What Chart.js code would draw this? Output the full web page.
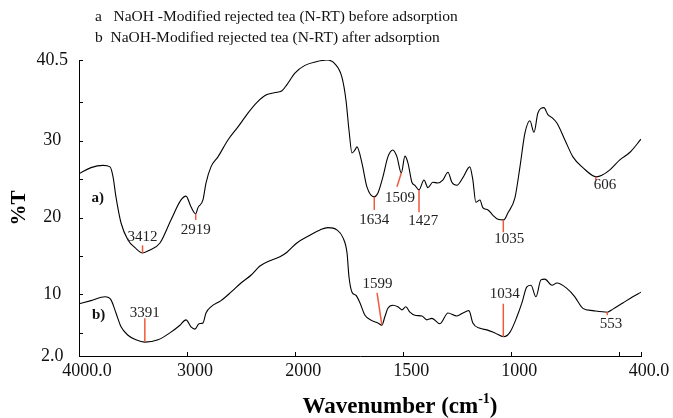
<!DOCTYPE html>
<html>
<head>
<meta charset="utf-8">
<script src="https://cdn.jsdelivr.net/npm/chart.js@4.4.1/dist/chart.umd.min.js"></script>
<style>
    html, body { margin: 0; padding: 0; background: #fff; }
    #wrap { position: relative; width: 673px; height: 418px; }
</style>
</head>
<body>
<div id="wrap"><canvas id="ftirChart" width="673" height="418"></canvas></div>
<script>
// spectrum a (before adsorption)
const waveA = [4000,3889,3778,3713,3685,3658,3611,3547,3482,3412,3343,3251,3149,3056,3010,2964,2920,2899,2853,2825,
    2779,2714,2622,2529,2437,2353,2261,2168,2122,2076,2002,1955,1899,1853,1816,1784,1765,1751,1737,1723,
    1714,1691,1668,1634,1617,1594,1571,1548,1529,1509,1492,1478,1460,1446,1427,1404,1386,1363,1340,1316,
    1293,1275,1252,1224,1192,1178,1164,1145,1132,1108,1085,1062,1035,1016,983,960,937,914,895,877,
    849,831,812,789,752,715,669,606,581,544,498,451,400];
const pctA = [25.7,26.5,26.8,26.6,25.3,22.7,19.3,17.1,16.1,15.4,15.8,16.7,19.7,22.3,22.8,21.4,20.5,21.3,22.3,24.5,
    26.6,27.9,30.1,31.8,33.6,35.0,36.0,36.3,36.5,37.3,38.8,39.8,40.3,40.5,40.0,38.3,35.3,31.4,28.4,28.8,
    29.2,27.1,24.0,22.7,23.2,25.3,27.9,28.8,27.9,25.8,28.0,27.1,24.6,24.2,23.6,24.9,23.9,24.6,24.5,24.9,
    25.9,24.6,24.2,25.2,26.6,24.9,22.0,22.3,21.3,21.0,20.3,19.8,19.7,20.6,22.6,26.6,31.0,32.6,31.1,33.6,
    34.3,33.4,33.0,32.3,30.1,27.9,26.5,25.3,25.5,26.2,27.5,28.5,30.2];

// spectrum b (after adsorption)
const waveB = [4000,3889,3759,3704,3658,3611,3547,3473,3391,3269,3149,3066,3010,2964,2927,2890,2853,2825,2779,2686,
    2594,2501,2409,2326,2233,2141,2076,1992,1932,1885,1848,1807,1779,1760,1751,1737,1719,1700,1677,1645,
    1617,1599,1585,1571,1548,1525,1506,1488,1469,1446,1413,1391,1367,1330,1293,1252,1224,1196,1178,1145,
    1113,1076,1035,1006,974,951,928,909,886,863,845,812,789,743,706,669,623,556,530,484,438,400];
const pctB = [8.8,9.2,9.7,9.3,7.6,5.8,4.7,4.1,3.8,4.1,5.1,6.0,6.7,5.8,5.5,6.2,6.3,7.6,8.4,9.2,
    10.3,11.5,12.5,13.7,14.4,14.9,15.5,16.7,17.7,18.4,18.7,18.4,17.4,15.4,12.3,10.3,9.9,8.9,7.3,6.6,
    6.3,6.0,7.1,8.2,8.6,8.4,8.0,8.4,7.7,7.3,7.2,6.7,6.9,6.2,7.6,7.2,7.6,7.9,6.3,5.6,
    5.4,5.0,4.5,5.1,7.1,8.9,11.0,11.2,9.7,11.9,12.0,11.2,11.5,10.8,9.7,8.2,7.9,7.7,8.1,8.9,9.7,10.3];

const xTickWaves = [4000, 3000, 2000, 1500, 1000, 500, 400];
const xTickLabels = ['4000.0', '3000', '2000', '1500', '1000', '', '400.0'];
const yTickValues = [2, 5, 10, 15, 20, 25, 30, 35, 40.5];
const yTickLabels = ['2.0', '', '10', '', '20', '', '30', '', '40.5'];

const legendLines = [
    'a   NaOH -Modified rejected tea (N-RT) before adsorption',
    'b  NaOH-Modified rejected tea (N-RT) after adsorption'
];
const seriesTags = [['a)', 3885, 22.5], ['b)', 3880, 7.3]];

// peak marks: text, line start (wave, %T), line end (wave, %T), text centre (wave, %T)
const peakNotes = [
    ['3412', 3412, 15.4, 3412, 16.4, 3412, 17.5],
    ['2919', 2920, 20.5, 2920, 19.7, 2920, 18.4],
    ['3391', 3391, 3.85, 3391, 6.9, 3391, 7.6],
    ['1634', 1634, 22.7, 1634, 21.0, 1634, 19.7],
    ['1509', 1509, 25.8, 1529, 24.0, 1515, 22.6],
    ['1427', 1427, 23.6, 1427, 20.7, 1407, 19.6],
    ['1035', 1037, 19.7, 1037, 18.1, 1009, 17.2],
    ['606', 609, 25.3, 609, 24.9, 567, 24.2],
    ['1599', 1599, 6.05, 1621, 10.2, 1619, 11.3],
    ['1034', 1037, 4.5, 1037, 8.8, 1030, 10.1],
    ['553', 556, 7.7, 556, 7.3, 539, 6.2]
];

// the wavenumber axis changes scale at 2000 cm-1 (half the span per unit below it)
function toAxis(w) {
    return w >= 2000 ? (4000 - w) / 1000 : 2 + (2000 - w) / 500;
}

function points(waves, vals) {
    return waves.map((w, i) => ({ x: toAxis(w), y: vals[i] }));
}

const serif = '"Liberation Serif", "Times New Roman", serif';
const noteRed = '#f05a3c';

const decorPlugin = {
    id: 'decor',
    afterDraw(chart) {
        const { ctx, chartArea, scales: { x, y } } = chart;
        ctx.save();

        // ticks pointing into the plot
        ctx.strokeStyle = '#000';
        ctx.lineWidth = 1;
        x.ticks.forEach(t => {
            const px = Math.round(x.getPixelForValue(t.value)) + 0.5;
            ctx.beginPath();
            ctx.moveTo(px, chartArea.bottom);
            ctx.lineTo(px, chartArea.bottom - 4);
            ctx.stroke();
        });
        y.ticks.forEach(t => {
            const py = Math.round(y.getPixelForValue(t.value)) + 0.5;
            ctx.beginPath();
            ctx.moveTo(chartArea.left, py);
            ctx.lineTo(chartArea.left + 4, py);
            ctx.stroke();
        });

        // header lines
        ctx.fillStyle = '#111';
        ctx.textBaseline = 'middle';
        ctx.textAlign = 'left';
        ctx.font = '15.5px ' + serif;
        ctx.fillText(legendLines[0], 95, 17);
        ctx.fillText(legendLines[1], 95, 38);

        // a) b)
        ctx.font = 'bold 15px ' + serif;
        seriesTags.forEach(([txt, w, v]) => {
            ctx.fillText(txt, x.getPixelForValue(toAxis(w)), y.getPixelForValue(v));
        });

        // peak marks
        ctx.strokeStyle = noteRed;
        ctx.lineWidth = 1.5;
        ctx.font = '15px ' + serif;
        ctx.textAlign = 'center';
        ctx.fillStyle = '#222';
        peakNotes.forEach(([txt, w1, v1, w2, v2, wt, vt]) => {
            ctx.beginPath();
            ctx.moveTo(x.getPixelForValue(toAxis(w1)), y.getPixelForValue(v1));
            ctx.lineTo(x.getPixelForValue(toAxis(w2)), y.getPixelForValue(v2));
            ctx.stroke();
            ctx.fillText(txt, x.getPixelForValue(toAxis(wt)), y.getPixelForValue(vt));
        });

        // x axis title with superscript
        ctx.fillStyle = '#000';
        ctx.textAlign = 'left';
        ctx.textBaseline = 'alphabetic';
        const main = 'Wavenumber (cm';
        const sup = '-1';
        const close = ')';
        ctx.font = 'bold 23px ' + serif;
        const wMain = ctx.measureText(main).width;
        const wClose = ctx.measureText(close).width;
        ctx.font = 'bold 14px ' + serif;
        const wSup = ctx.measureText(sup).width;
        const total = wMain + wSup + wClose;
        let cx = 400 - total / 2;
        const base = 413;
        ctx.font = 'bold 23px ' + serif;
        ctx.fillText(main, cx, base);
        cx += wMain;
        ctx.font = 'bold 14px ' + serif;
        ctx.fillText(sup, cx, base - 10);
        cx += wSup;
        ctx.font = 'bold 23px ' + serif;
        ctx.fillText(close, cx, base);

        ctx.restore();
    }
};

new Chart(document.getElementById('ftirChart'), {
    type: 'line',
    data: {
        datasets: [
            {
                label: 'a',
                data: points(waveA, pctA),
                borderColor: '#000',
                borderWidth: 1.1,
                pointRadius: 0,
                cubicInterpolationMode: 'monotone',
                fill: false
            },
            {
                label: 'b',
                data: points(waveB, pctB),
                borderColor: '#000',
                borderWidth: 1.1,
                pointRadius: 0,
                cubicInterpolationMode: 'monotone',
                fill: false
            }
        ]
    },
    options: {
        responsive: false,
        animation: false,
        events: [],
        layout: { padding: { top: 60, right: 32, bottom: 0, left: 0 } },
        plugins: {
            legend: { display: false },
            tooltip: { enabled: false }
        },
        scales: {
            x: {
                type: 'linear',
                min: 0,
                max: toAxis(400),
                afterBuildTicks: scale => {
                    scale.ticks = xTickWaves.map(w => ({ value: toAxis(w) }));
                },
                afterFit: scale => {
                    scale.height = 62;
                    scale.paddingLeft = 0;
                    scale.paddingRight = 0;
                },
                ticks: {
                    autoSkip: false,
                    maxRotation: 0,
                    padding: 4,
                    labelOffset: 8,
                    color: '#111',
                    font: { family: serif, size: 18 },
                    callback: (v, i) => xTickLabels[i]
                },
                grid: { display: false, drawTicks: false },
                border: { color: '#000', width: 1 }
            },
            y: {
                min: 2,
                max: 40.5,
                afterBuildTicks: scale => {
                    scale.ticks = yTickValues.map(v => ({ value: v }));
                },
                afterFit: scale => {
                    scale.width = 79;
                    scale.paddingTop = 0;
                    scale.paddingBottom = 0;
                },
                ticks: {
                    autoSkip: false,
                    crossAlign: 'center',
                    padding: 11,
                    color: '#111',
                    font: { family: serif, size: 18 },
                    callback: (v, i) => yTickLabels[i]
                },
                grid: { display: false, drawTicks: false },
                border: { color: '#000', width: 1 },
                title: {
                    display: true,
                    text: '%T',
                    color: '#000',
                    font: { family: serif, size: 21, weight: 'bold' },
                    padding: { top: 7, bottom: 0 }
                }
            }
        }
    },
    plugins: [decorPlugin]
});
</script>
</body>
</html>
